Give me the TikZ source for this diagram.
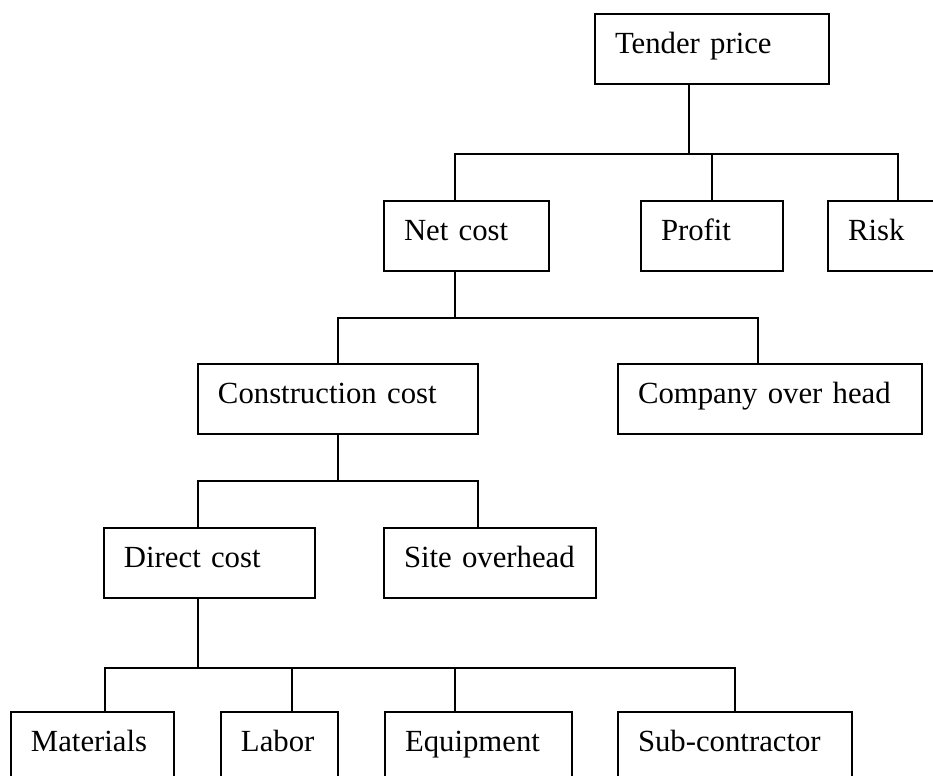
\documentclass[tikz,border=0pt]{standalone}
\usepackage{fontspec}
\setmainfont{Liberation Serif}
\usetikzlibrary{positioning}
\usetikzlibrary{calc}

\begin{document}
\begin{tikzpicture}
  [
    x=0.02cm, y=-0.02cm,
    cell/.style={draw=black, line width=1pt, anchor=north west,
    minimum height=1.4cm, inner xsep=0.4cm, inner ysep=0pt, outer sep=0pt,
    text width=#1, align=left, text height=12pt, text depth=7.4pt,
    font=\fontsize{17.5}{21}\selectfont},
    ln/.style={draw=black, line width=1pt}
  ]
  \useasboundingbox (0,0) rectangle (933,776);
  \clip (0,0) rectangle (933,776);

  \node (tender)       at (595, 14) [cell=3.88cm] {Tender price};
  \node (netcost)      at (384,201) [cell=2.50cm] {Net cost};
  \node (profit)       at (641,201) [cell=2.04cm] {Profit};
  \node (risk)         at (828,201) [cell=2.00cm] {Risk};
  \node (construction) at (198,364) [cell=4.80cm] {Construction cost};
  \node (company)      at (618,364) [cell=5.28cm] {Company over head};
  \node (direct)       at (104,528) [cell=3.42cm] {Direct cost};
  \node (site)         at (384,528) [cell=3.44cm] {Site overhead};
  \node (materials)    at ( 11,712) [cell=2.46cm] {Materials};
  \node (labor)        at (221,712) [cell=1.54cm] {Labor};
  \node (equipment)    at (385,712) [cell=2.94cm] {Equipment};
  \node (subcon)       at (618,712) [cell=3.88cm] {Sub-contractor};

  % tender price
  \draw [ln] ($(tender.south west)+(94,0)$) -- ++(0,70);
  \draw [ln] ($(netcost.north west)+(71,0)$) |- ($(risk.north)+(0,-47)$) -- (risk.north);
  \draw [ln] (profit.north) -- ++(0,-47);

  % net cost
  \draw [ln] ($(netcost.south west)+(71,0)$) -- ++(0,47);
  \draw [ln] (construction.north) |- ($(company.north west)+(140,-46)$) -- ++(0,46);

  % construction cost
  \draw [ln] (construction.south) -- ++(0,47);
  \draw [ln] ($(direct.north west)+(94,0)$) |- ($(site.north west)+(94,-47)$) -- ++(0,47);

  % direct cost
  \draw [ln] ($(direct.south west)+(94,0)$) -- ++(0,70);
  \draw [ln] ($(materials.north west)+(94,0)$) |- ($(subcon.north)+(0,-44)$) -- (subcon.north);
  \draw [ln] ($(labor.north west)+(71,0)$) -- ++(0,-44);
  \draw [ln] ($(equipment.north west)+(70,0)$) -- ++(0,-44);
\end{tikzpicture}
\end{document}
